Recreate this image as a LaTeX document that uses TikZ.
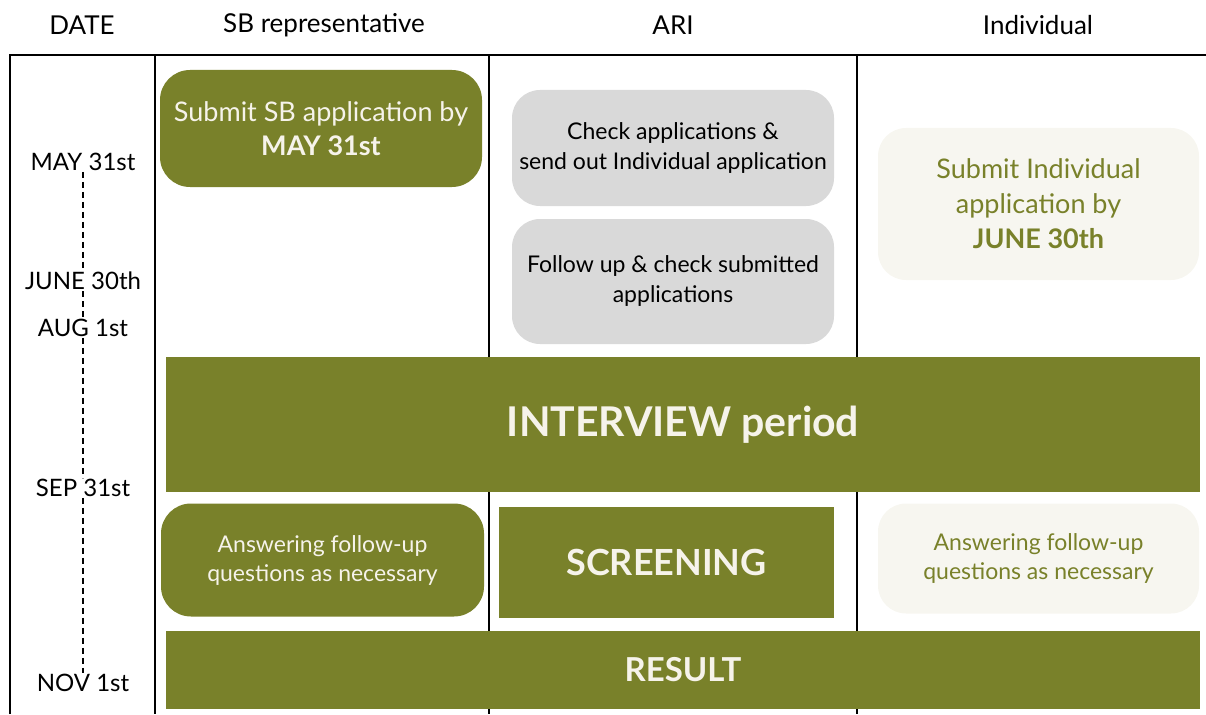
\documentclass[tikz,border=0pt]{standalone}
\usepackage{fontspec}
\setmainfont{Lato}
\usepackage{tikz}
\usetikzlibrary{
    backgrounds,
    calc,
    positioning,
}
\definecolor{sbgreen}{HTML}{79812A}
\definecolor{cream}{HTML}{F6F3EA}
\definecolor{arigrey}{HTML}{D9D9D9}
\definecolor{palebox}{HTML}{F7F6F0}
\tikzstyle{head}=[font=\fontsize{26}{30}\selectfont]
\tikzstyle{datelbl}=[font=\fontsize{24}{26}\selectfont,inner sep=1pt]
\tikzstyle{greenbox}=[fill=sbgreen,text=cream,rounded corners=30pt,align=center,inner sep=0pt]
\tikzstyle{greybox}=[fill=arigrey,rounded corners=28pt,align=center,inner sep=0pt,font=\fontsize{23}{30}\selectfont]
\tikzstyle{lightbox}=[fill=palebox,text=sbgreen,rounded corners=28pt,align=center,inner sep=0pt]
\tikzstyle{bar}=[fill=sbgreen,text=cream,inner sep=0pt,font=\bfseries]
\tikzstyle{frame}=[line width=2pt]

\begin{document}
\begin{tikzpicture}[x=1pt,y=1pt]
                \useasboundingbox (0,0) rectangle (1206,-714);
                % table frame
                \draw[frame] (10,-714) -- (10,-55) -- (1206,-55);
                \draw[frame] (155,-55) -- (155,-714);
                \draw[frame] (489,-55) -- (489,-714);
                \draw[frame] (857,-55) -- (857,-714);
                % column heads
                \node[head] (hdate) at (82,-25) {DATE};
                \node[head] (hsb) at (324,-25) {SB representative};
                \node[head] (hari) at (673,-25) {ARI};
                \node[head] (hind) at (1038,-25) {Individual};
                % dates
                \node[datelbl] (may) at (83,-162) {MAY 31st};
                \node[datelbl] (june) at (83,-281) {JUNE 30th};
                \node[datelbl] (aug) at (83,-328) {AUG 1st};
                \node[datelbl] (sep) at (83,-488) {SEP 31st};
                \node[datelbl] (nov) at (83,-683) {NOV 1st};
                \begin{scope}[line width=2.6pt,dash pattern=on 6pt off 4pt]
                    \draw (may) -- (june);
                    \draw (june) -- (aug);
                    \draw (aug) -- (sep);
                    \draw (sep) -- (nov);
                \end{scope}
                % boxes
                \node[greenbox,minimum width=322pt,minimum height=117pt,font=\fontsize{27}{34}\selectfont] (sbsubmit) at (321,-128.5)
                    {Submit SB application by\\\textbf{MAY 31st}};
                \node[greybox,minimum width=322pt,minimum height=116pt] (aricheck) at (673,-148)
                    {Check applications \&\\send out Individual application};
                \node[greybox,minimum width=322pt,minimum height=125pt] (arifollow) at (673,-281.5)
                    {Follow up \& check submitted\\applications};
                \node[lightbox,minimum width=321pt,minimum height=152pt,font=\fontsize{27}{35}\selectfont] (indsubmit) at (1038.5,-204)
                    {Submit Individual\\application by\\\textbf{JUNE 30th}};
                \node[bar,minimum width=1034pt,minimum height=135pt,font=\bfseries\fontsize{41}{46}\selectfont] (interview) at (683,-424.5)
                    {INTERVIEW period};
                \node[greenbox,minimum width=323pt,minimum height=113pt,font=\fontsize{23}{29}\selectfont] (sbanswer) at (322.5,-560)
                    {Answering follow-up\\questions as necessary};
                \node[bar,minimum width=335pt,minimum height=111pt,font=\bfseries\fontsize{36}{40}\selectfont] (screening) at (666.5,-562.5)
                    {SCREENING};
                \node[lightbox,minimum width=321pt,minimum height=110pt,font=\fontsize{23}{29}\selectfont] (indanswer) at (1038.5,-558.5)
                    {Answering follow-up\\questions as necessary};
                \node[bar,minimum width=1034pt,minimum height=78pt,font=\bfseries\fontsize{33}{38}\selectfont] (result) at (683,-669.5)
                    {RESULT};
\end{tikzpicture}
\end{document}
